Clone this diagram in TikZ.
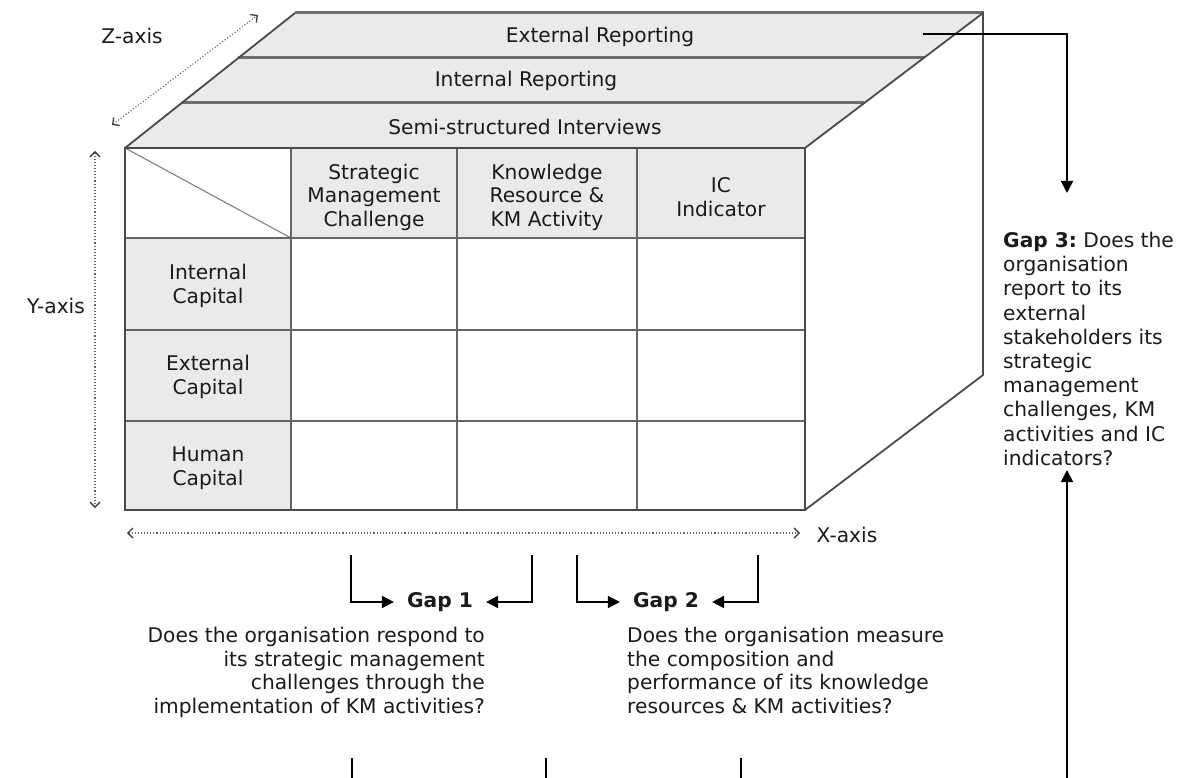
\documentclass[tikz,border=0pt]{standalone}
\usepackage{fontspec}
\setmainfont{DejaVu Sans}
\usetikzlibrary{arrows.meta,calc}
\definecolor{slab}{HTML}{EAEAEA}
\definecolor{rule}{HTML}{4A4A4A}
\definecolor{ink}{HTML}{1A1A1A}
\frenchspacing
\begin{document}
\begin{tikzpicture}[x=1pt,y=-1pt,
  lbl/.style={font=\fontsize{20.2}{23.5}\selectfont, text=ink, inner sep=0pt},
  cell/.style={lbl, align=center},
  frame/.style={draw=rule, line width=1.8pt, line join=miter},
  grid/.style={draw=rule!85, line width=1.6pt},
  slabline/.style={draw=rule!80, line width=3pt},
  axis/.style={draw=black!60, line width=1.1pt, dotted,
    {Straight Barb[length=5pt,width=10pt,line width=1.3pt,black!75]}-{Straight Barb[length=5pt,width=10pt,line width=1.3pt,black!75]}},
  gapline/.style={draw=black, line width=1.8pt},
  gaptip/.style={-{Triangle[length=12pt,width=12pt]}},
  gaplbl/.style={lbl, font=\fontsize{20.2}{23.5}\selectfont\bfseries, inner xsep=13pt},
]
\useasboundingbox (0,0) rectangle (1186,778);

% cube corners
\coordinate (F-tl) at (125,148);
\coordinate (F-tr) at (805,148);
\coordinate (F-br) at (805,510);
\coordinate (F-bl) at (125,510);
\coordinate (B-tl) at (295,13);
\coordinate (B-tr) at (983,13);
\coordinate (B-br) at (983,375);

% top face: three reporting slabs
\fill[slab] (F-tl) -- (B-tl) -- (B-tr) -- (F-tr) -- cycle;
\draw[slabline] (B-tl) -- (B-tr);
\draw[slabline] ($(F-tl)!2/3!(B-tl)$) -- ($(F-tr)!2/3!(B-tr)$);
\draw[slabline] ($(F-tl)!1/3!(B-tl)$) -- ($(F-tr)!1/3!(B-tr)$);
\draw[frame] (F-tl) -- (B-tl);
% right face
\draw[frame, fill=white] (F-tr) -- (B-tr) -- (B-br) -- (F-br);

\node[lbl] (ext) at (600,37) {External Reporting};
\node[lbl] (int) at (526,81) {Internal Reporting};
\node[lbl] (ssi) at (525,127) {Semi-structured Interviews};

% front face: the matrix
\fill[slab] (291,148) rectangle (805,238);
\fill[slab] (125,238) rectangle (291,510);
\draw[draw=rule!70, line width=1.1pt] (F-tl) -- (291,238);
\foreach \x in {291,457,637} \draw[grid] (\x,148) -- (\x,510);
\foreach \y in {238,330,421} \draw[grid] (125,\y) -- (805,\y);
\draw[frame, line width=2.2pt] (F-tl) rectangle (F-br);

\node[cell] (c-smc) at (374,197) {Strategic\\Management\\Challenge};
\node[cell] (c-kr)  at (547,197) {Knowledge\\Resource \&\\KM Activity};
\node[cell] (c-ic)  at (721,197) {IC\\Indicator};
\node[cell] (r-int) at (208,286) {Internal\\Capital};
\node[cell] (r-ext) at (208,377) {External\\Capital};
\node[cell] (r-hum) at (208,468) {Human\\Capital};

% axes
\coordinate (z0) at (112,125);
\coordinate (z1) at (258,15);
\coordinate (y0) at (95,151);
\coordinate (y1) at (95,508);
\coordinate (x0) at (127,533);
\coordinate (x1) at (800,533);
\draw[axis] (z0) -- (z1);
\draw[axis] (y0) -- (y1);
\draw[axis] (x0) -- (x1);
\node[lbl] (zlab) at (132,36) {Z-axis};
\node[lbl] (ylab) at (56,306) {Y-axis};
\node[lbl] (xlab) at (847,535) {X-axis};

% gaps 1 and 2
\node[gaplbl] (gap1) at (440,602) {Gap 1};
\node[gaplbl] (gap2) at (666,602) {Gap 2};
\coordinate (g1a) at (351,555);
\coordinate (g1b) at (532,555);
\coordinate (g2a) at (577,555);
\coordinate (g2b) at (758,555);
\draw[gapline, gaptip] (g1a) |- (gap1.west);
\draw[gapline, gaptip] (g1b) |- (gap1.east);
\draw[gapline, gaptip] (g2a) |- (gap2.west);
\draw[gapline, gaptip] (g2b) |- (gap2.east);

\node[lbl, align=right, anchor=north east] (q1) at (485,627)
  {Does the organisation respond to\\its strategic management\\challenges through the\\implementation of KM activities?};
\node[lbl, align=left, anchor=north west] (q2) at (627,627)
  {Does the organisation measure\\the composition and\\performance of its knowledge\\resources \& KM activities?};

% gap 3
\node[lbl, align=left, anchor=north west, font=\fontsize{20.2}{24.2}\selectfont] (q3) at (1003,232)
  {\textbf{Gap 3:} Does the\\organisation\\report to its\\external\\stakeholders its\\strategic\\management\\challenges, KM\\activities and IC\\indicators?};
\coordinate (g3s) at (923,34);
\coordinate (g3t) at (1067,193);
\coordinate (g3u) at (1067,778);
\coordinate (g3v) at (1067,470);
\draw[gapline, gaptip] (g3s) -| (g3t);
\draw[gapline, gaptip] (g3u) -- (g3v);

% stubs along the lower edge
\foreach \x/\n in {352/a,546/b,741/c} {
  \coordinate (s\n0) at (\x,758);
  \coordinate (s\n1) at (\x,778);
  \draw[gapline] (s\n0) -- (s\n1);
}
\end{tikzpicture}
\end{document}
